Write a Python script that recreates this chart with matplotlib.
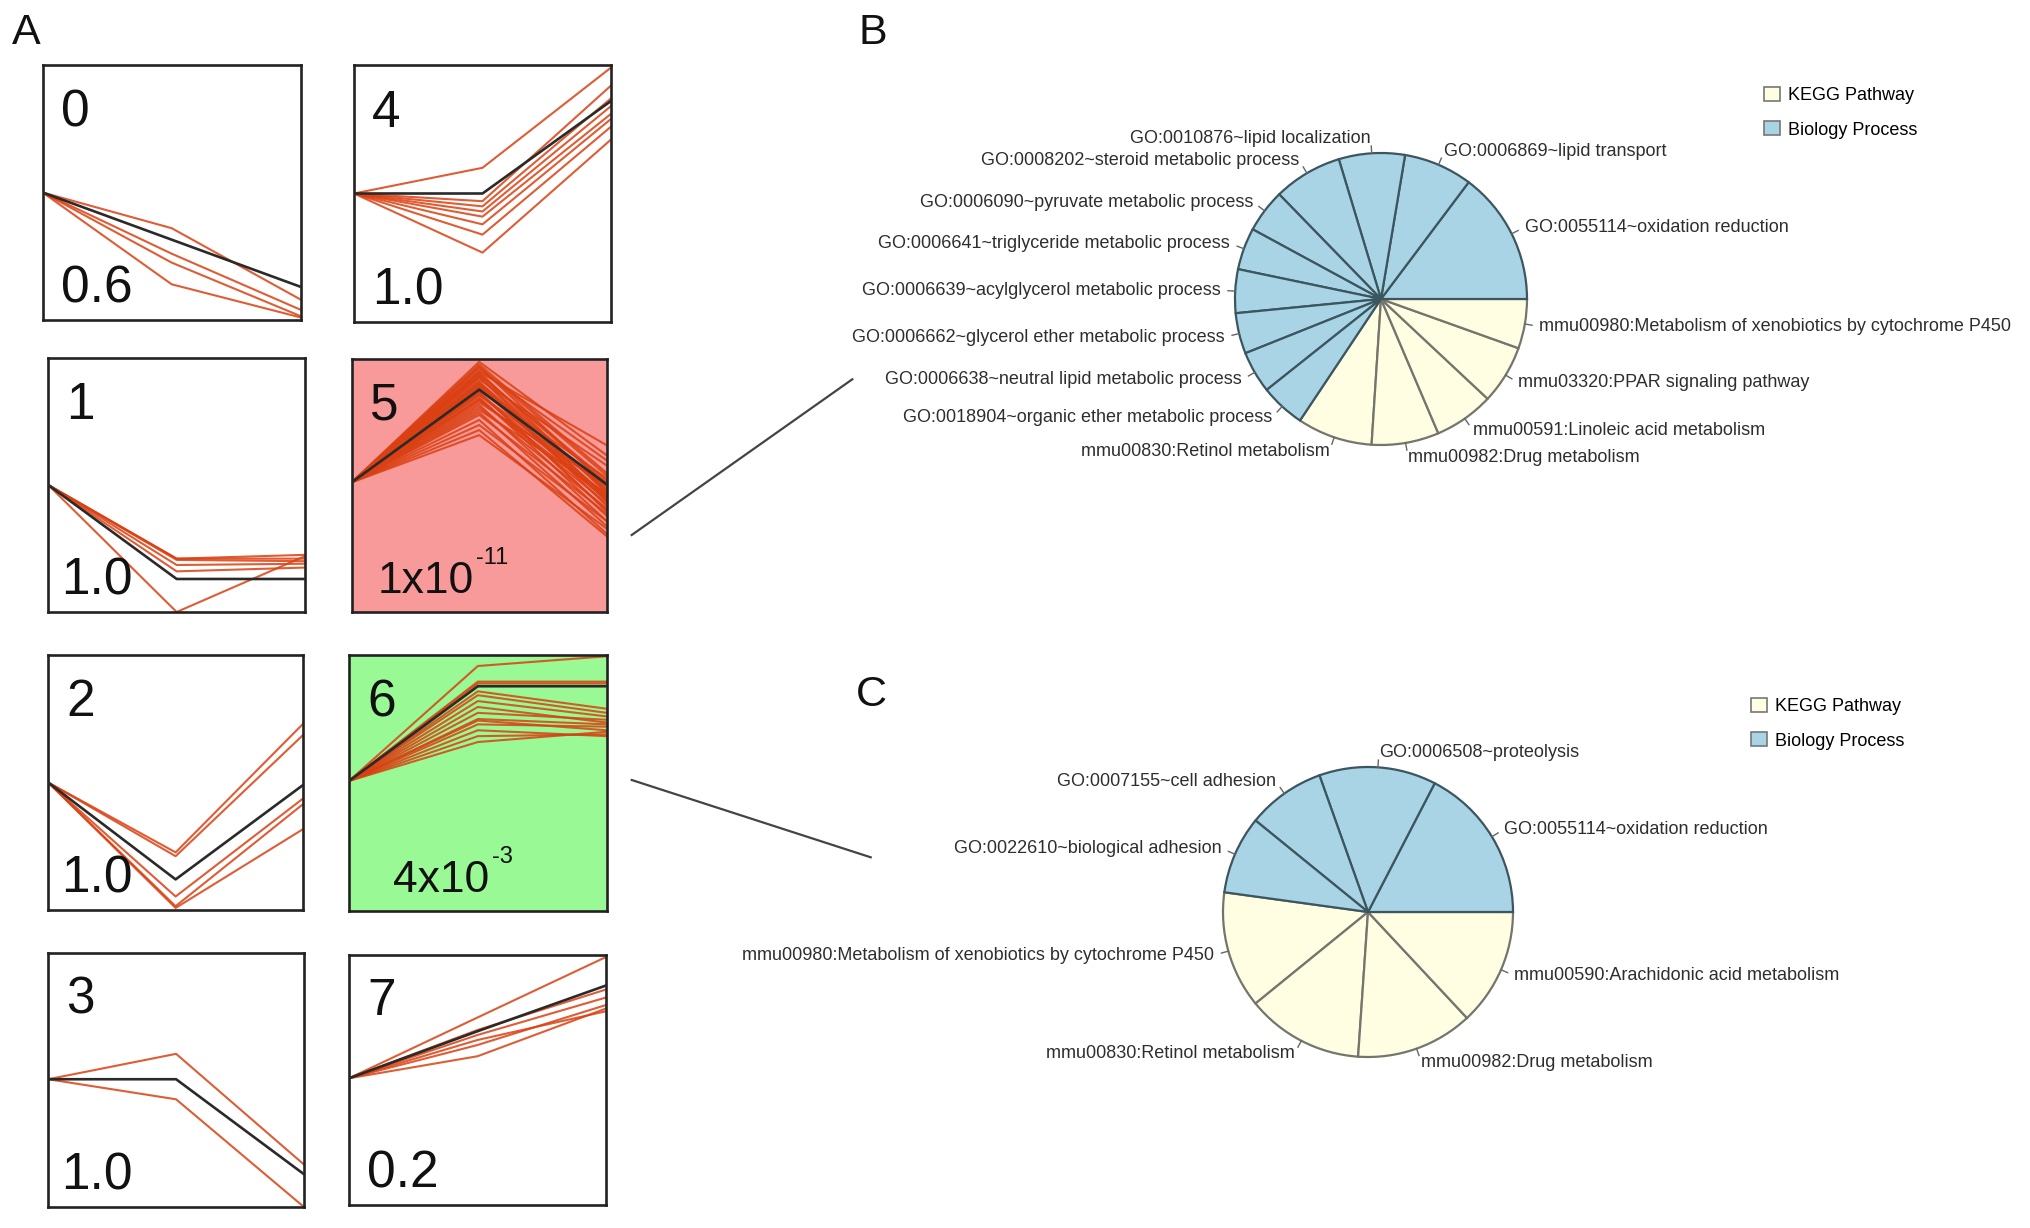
import matplotlib
matplotlib.use('Agg')
import matplotlib.pyplot as plt
from matplotlib.patches import Patch
from matplotlib.lines import Line2D
import numpy as np

plt.rcParams['font.family'] = ['Liberation Sans', 'DejaVu Sans']

# ---------------- data ----------------
time_points = [0, 1, 2]

cluster_ids = ['0', '4', '1', '5', '2', '6', '3', '7']
cluster_pvals = ['0.6', '1.0', '1.0', '1x10', '1.0', '4x10', '1.0', '0.2']
cluster_pexp = ['', '', '', '-11', '', '-3', '', '']

model_0 = [0.50, 0.315, 0.13]
genes_0 = [[0.50, 0.36, 0.08], [0.50, 0.26, 0.04], [0.50, 0.225, 0.015],
           [0.50, 0.14, 0.01]]

model_4 = [0.50, 0.50, 0.86]
genes_4 = [[0.50, 0.60, 0.99], [0.50, 0.47, 0.92], [0.50, 0.45, 0.87],
           [0.50, 0.43, 0.84], [0.50, 0.41, 0.81], [0.50, 0.38, 0.79],
           [0.50, 0.34, 0.76], [0.50, 0.27, 0.71]]

model_1 = [0.50, 0.13, 0.13]
genes_1 = [[0.50, 0.21, 0.21], [0.50, 0.205, 0.20], [0.50, 0.185, 0.19],
           [0.50, 0.16, 0.175], [0.50, 0.00, 0.22], [0.50, 0.21, 0.225]]

model_5 = [0.513, 0.88, 0.505]
genes_5_mid = [0.99, 0.98, 0.97, 0.96, 0.95, 0.94, 0.93, 0.92, 0.91, 0.90,
               0.89, 0.88, 0.87, 0.86, 0.85, 0.84, 0.83, 0.82, 0.81, 0.80,
               0.79, 0.78, 0.76, 0.74, 0.72, 0.70, 0.95, 0.93, 0.90, 0.87,
               0.97, 0.94, 0.91, 0.89, 0.86, 0.84]
genes_5_end = [0.62, 0.55, 0.50, 0.60, 0.47, 0.52, 0.45, 0.58, 0.42, 0.49,
               0.44, 0.53, 0.40, 0.46, 0.38, 0.43, 0.50, 0.36, 0.41, 0.47,
               0.34, 0.39, 0.31, 0.36, 0.30, 0.33, 0.66, 0.48, 0.44, 0.40,
               0.54, 0.51, 0.48, 0.46, 0.50, 0.45]

model_2 = [0.50, 0.12, 0.49]
genes_2 = [[0.50, 0.226, 0.73], [0.50, 0.211, 0.686], [0.50, 0.053, 0.437],
           [0.50, 0.015, 0.415], [0.50, 0.008, 0.317]]

model_6 = [0.508, 0.878, 0.878]
genes_6 = [[0.508, 0.957, 0.995], [0.508, 0.896, 0.896], [0.508, 0.889, 0.889],
           [0.508, 0.858, 0.79], [0.508, 0.843, 0.774], [0.508, 0.82, 0.76],
           [0.508, 0.797, 0.736], [0.508, 0.774, 0.747], [0.508, 0.75, 0.729],
           [0.508, 0.744, 0.706], [0.508, 0.729, 0.72], [0.508, 0.706, 0.683],
           [0.508, 0.683, 0.69], [0.508, 0.66, 0.70]]

model_3 = [0.503, 0.503, 0.129]
genes_3 = [[0.503, 0.603, 0.167], [0.503, 0.424, 0.0]]

model_7 = [0.507, 0.695, 0.878]
genes_7 = [[0.507, 0.75, 0.992], [0.507, 0.70, 0.862], [0.507, 0.68, 0.83],
           [0.507, 0.64, 0.80], [0.507, 0.595, 0.786], [0.507, 0.66, 0.775]]

genes_5 = [[model_5[0], m, e] for m, e in zip(genes_5_mid, genes_5_end)]

models = [model_0, model_4, model_1, model_5, model_2, model_6, model_3, model_7]
genes = [genes_0, genes_4, genes_1, genes_5, genes_2, genes_6, genes_3, genes_7]

pieB_labels = ['GO:0055114~oxidation reduction', 'GO:0006869~lipid transport',
               'GO:0010876~lipid localization', 'GO:0008202~steroid metabolic process',
               'GO:0006090~pyruvate metabolic process',
               'GO:0006641~triglyceride metabolic process',
               'GO:0006639~acylglycerol metabolic process',
               'GO:0006662~glycerol ether metabolic process',
               'GO:0006638~neutral lipid metabolic process',
               'GO:0018904~organic ether metabolic process',
               'mmu00830:Retinol metabolism', 'mmu00982:Drug metabolism',
               'mmu00591:Linoleic acid metabolism', 'mmu03320:PPAR signaling pathway',
               'mmu00980:Metabolism of xenobiotics by cytochrome P450']
pieB_values = [53.1, 27.4, 26.3, 27.4, 17.3, 16.7, 17.4, 16.2, 16.7, 17.8,
               30.0, 26.8, 23.8, 23.4, 19.7]
pieB_types = ['BP'] * 10 + ['KEGG'] * 5

pieC_labels = ['GO:0055114~oxidation reduction', 'GO:0006508~proteolysis',
               'GO:0007155~cell adhesion', 'GO:0022610~biological adhesion',
               'mmu00980:Metabolism of xenobiotics by cytochrome P450',
               'mmu00830:Retinol metabolism', 'mmu00982:Drug metabolism',
               'mmu00590:Arachidonic acid metabolism']
pieC_values = [4, 3, 2, 2, 3, 3, 3, 3]
pieC_types = ['BP'] * 4 + ['KEGG'] * 4

legend_labels = ['KEGG Pathway', 'Biology Process']

# ---------------- styles ----------------
W, H = 2031, 1228
fig = plt.figure(figsize=(W / 100, H / 100), dpi=100)

def px_axes(l, t, r, b):
    return fig.add_axes([l / W, 1 - b / H, (r - l) / W, (b - t) / H])

box_px = [(42.7, 65, 300.7, 320), (354, 65, 611, 322),
          (48.3, 358, 305, 612), (351.7, 359.3, 606.7, 612),
          (48.2, 655, 303, 910), (349, 655, 606.7, 911),
          (48.2, 953, 304, 1207), (349, 955, 606, 1205)]
box_bg = ['white', 'white', 'white', '#F89A99', 'white', '#98F995', 'white', 'white']
pval_x = [0.07, 0.07, 0.05, 0.10, 0.05, 0.17, 0.05, 0.07]

RED = '#DA4012'
for i in range(8):
    ax = px_axes(*box_px[i])
    ax.set_facecolor(box_bg[i])
    ax.set_xlim(0, 2)
    ax.set_ylim(0, 1)
    ax.set_xticks([])
    ax.set_yticks([])
    for s in ax.spines.values():
        s.set_linewidth(1.9)
        s.set_color('#222222')
    for g in genes[i]:
        ax.plot(time_points, g, color=RED, lw=1.5, alpha=0.85, zorder=2)
    ax.plot(time_points, models[i], color='#2a2a2a', lw=1.9, zorder=3)
    ax.text(0.07, 0.76, cluster_ids[i], transform=ax.transAxes, fontsize=37,
            va='baseline', ha='left', color='#111111', zorder=5)
    if cluster_pexp[i]:
        t = ax.text(pval_x[i], 0.075, cluster_pvals[i], transform=ax.transAxes,
                    fontsize=32, va='baseline', ha='left', color='#111111', zorder=5)
        ax.annotate(cluster_pexp[i], xy=(1, 0), xycoords=t, xytext=(3, 38),
                    textcoords='offset pixels', fontsize=17, va='baseline',
                    ha='left', color='#111111', zorder=5)
    else:
        ax.text(pval_x[i], 0.07, cluster_pvals[i], transform=ax.transAxes,
                fontsize=37, va='baseline', ha='left', color='#111111', zorder=5)

# ---------------- connector lines ----------------
connectors = [((631.7, 535), (852.3, 379.3)), ((631.7, 780), (870.7, 857.3))]
for (x0, y0), (x1, y1) in connectors:
    fig.add_artist(Line2D([x0 / W, x1 / W], [1 - y0 / H, 1 - y1 / H],
                          color='#444444', lw=1.6))

# ---------------- pies ----------------
BLUE = '#A9D4E5'
YELLOW = '#FFFDE2'
col_map = {'BP': BLUE, 'KEGG': YELLOW}
edge_map = {'BP': '#3c5660', 'KEGG': '#74766c'}

def draw_pie(center, r, values, labels, types):
    cx, cy = center
    ax = px_axes(cx - r, cy - r, cx + r, cy + r)
    wedges, texts = ax.pie(values, labels=labels, startangle=0, counterclock=True,
                           colors=[col_map[t] for t in types], labeldistance=1.1,
                           textprops=dict(fontsize=13, color='#2e2e2e'))
    for w, t in zip(wedges, types):
        w.set_edgecolor(edge_map[t])
        w.set_linewidth(1.6)
        w.set_clip_on(False)
        if t == 'BP':
            w.set_zorder(2)
    for w in wedges:
        ang = np.deg2rad((w.theta1 + w.theta2) / 2)
        ax.plot([np.cos(ang), 1.05 * np.cos(ang)], [np.sin(ang), 1.05 * np.sin(ang)],
                color='#666666', lw=1.0, clip_on=False)
    ax.set_xlim(-1, 1)
    ax.set_ylim(-1, 1)
    ax.set_aspect('equal')
    ax.axis('off')
    return ax

draw_pie((1381, 299), 146, pieB_values, pieB_labels, pieB_types)
draw_pie((1368, 912), 145, pieC_values, pieC_labels, pieC_types)

handles = [Patch(facecolor=YELLOW, edgecolor='#777777', lw=1.2),
           Patch(facecolor=BLUE, edgecolor='#777777', lw=1.2)]
for (lx, ly) in [(1764, 87), (1751, 698)]:
    fig.legend(handles, legend_labels, loc='upper left',
               bbox_to_anchor=(lx / W, 1 - ly / H), frameon=False, fontsize=13,
               handlelength=0.9, handleheight=0.85, handletextpad=0.45,
               labelspacing=0.92, borderpad=0, borderaxespad=0)

# ---------------- panel letters ----------------
for lab, (x, y) in zip(['A', 'B', 'C'], [(12, 44), (859, 44), (856, 706)]):
    fig.text(x / W, 1 - y / H, lab, fontsize=31, va='baseline', ha='left', color='#111111')

fig.savefig('out.png', dpi=100, facecolor='white')
